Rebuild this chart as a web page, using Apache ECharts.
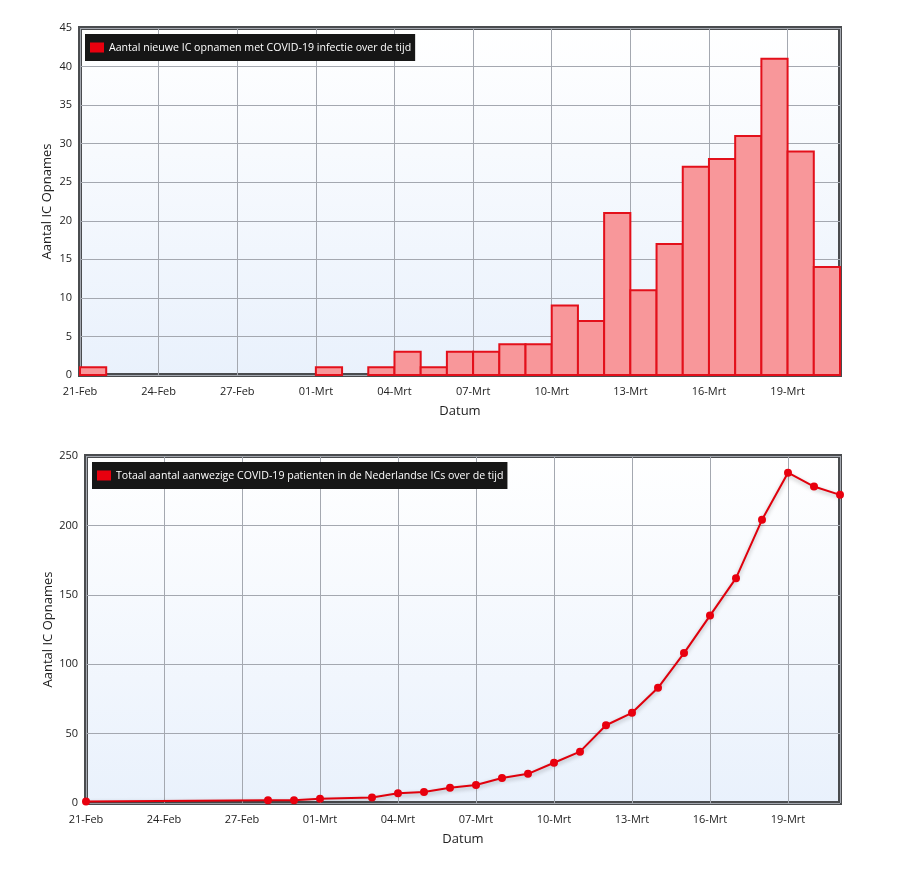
<!DOCTYPE html>
<html>
<head>
<meta charset="utf-8">
<script src="https://cdn.jsdelivr.net/npm/echarts@6/dist/echarts.min.js"></script>
<style>
  html, body { margin: 0; padding: 0; background: #fff; }
  #chart { width: 908px; height: 873px; }
</style>
</head>
<body>
<div id="chart"></div>
<script>
// dagelijkse nieuwe IC opnamen
const barDates = ['2020-02-21', '2020-03-01', '2020-03-03', '2020-03-04', '2020-03-05', '2020-03-06',
  '2020-03-07', '2020-03-08', '2020-03-09', '2020-03-10', '2020-03-11', '2020-03-12', '2020-03-13',
  '2020-03-14', '2020-03-15', '2020-03-16', '2020-03-17', '2020-03-18', '2020-03-19', '2020-03-20'];
const barValues = [1, 1, 1, 3, 1, 3, 3, 4, 4, 9, 7, 21, 11, 17, 27, 28, 31, 41, 29, 14];

// totaal aanwezig op de IC
const lineDates = ['2020-02-21', '2020-02-28', '2020-02-29', '2020-03-01', '2020-03-03', '2020-03-04',
  '2020-03-05', '2020-03-06', '2020-03-07', '2020-03-08', '2020-03-09', '2020-03-10', '2020-03-11',
  '2020-03-12', '2020-03-13', '2020-03-14', '2020-03-15', '2020-03-16', '2020-03-17', '2020-03-18',
  '2020-03-19', '2020-03-20', '2020-03-21'];
const lineValues = [1, 2, 2, 3, 4, 7, 8, 11, 13, 18, 21, 29, 37, 56, 65, 83, 108, 135, 162, 204, 238, 228, 222];

const tickLabels = ['21-Feb', '24-Feb', '27-Feb', '01-Mrt', '04-Mrt', '07-Mrt', '10-Mrt', '13-Mrt', '16-Mrt', '19-Mrt'];

const startDate = '2020-02-21';
const endDate = '2020-03-21';
const barName = 'Aantal nieuwe IC opnamen met COVID-19 infectie over de tijd';
const lineName = 'Totaal aantal aanwezige COVID-19 patienten in de Nederlandse ICs over de tijd';

const DAY = 86400000;
function dayIndex(d) {
  return Math.round((Date.parse(d) - Date.parse(startDate)) / DAY);
}
const lastDay = dayIndex(endDate);

const font = 'Open Sans';
const red = '#e8000e';

const plotBg = {
  type: 'linear', x: 0, y: 0, x2: 0, y2: 1,
  colorStops: [{ offset: 0, color: '#ffffff' }, { offset: 1, color: '#e9f1fc' }]
};

function makeGrid(left, top, bottom) {
  return {
    left: left, top: top, right: 68, bottom: bottom,
    show: true,
    backgroundColor: plotBg,
    borderColor: '#4a4c4f',
    borderWidth: 4
  };
}

function makeXAxis(gridIndex) {
  return {
    type: 'value',
    gridIndex: gridIndex,
    min: 0,
    max: lastDay,
    interval: 3,
    name: 'Datum',
    nameLocation: 'middle',
    nameGap: 30,
    nameTextStyle: { fontFamily: font, fontSize: 13, color: '#222' },
    axisLine: { show: false },
    axisTick: { show: false },
    axisLabel: {
      fontFamily: font, fontSize: 11, color: '#222', margin: 11,
      showMaxLabel: false,
      formatter: function (v) { return tickLabels[v / 3] || ''; }
    },
    splitLine: { show: true, lineStyle: { color: '#a4a8b0', width: 1 } }
  };
}

function makeYAxis(gridIndex, max, interval, gap) {
  return {
    type: 'value',
    gridIndex: gridIndex,
    min: 0,
    max: max,
    interval: interval,
    name: 'Aantal IC Opnames',
    nameLocation: 'middle',
    nameGap: gap,
    nameMoveOverlap: false,
    nameTextStyle: { fontFamily: font, fontSize: 13, color: '#222' },
    axisLine: { show: false },
    axisTick: { show: false },
    axisLabel: { fontFamily: font, fontSize: 11, color: '#222', margin: 8 },
    splitLine: { show: true, lineStyle: { color: '#a4a8b0', width: 1 } }
  };
}

function makeLegend(name, left, top) {
  return {
    data: [{ name: name, itemStyle: { color: red } }],
    left: left,
    top: top,
    icon: 'rect',
    itemWidth: 14,
    itemHeight: 10,
    itemGap: 6,
    backgroundColor: '#161616',
    borderRadius: 0,
    padding: [8, 4, 8, 5],
    textStyle: { color: '#fff', fontFamily: font, fontSize: 10.6 },
    selectedMode: false
  };
}

const barData = barDates.map((d, i) => [dayIndex(d), barValues[i]]);
const lineData = lineDates.map((d, i) => [dayIndex(d), lineValues[i]]);

const chart = echarts.init(document.getElementById('chart'), null, { renderer: 'canvas' });

const option = {
  animation: false,
  grid: [makeGrid(80, 28, 498), makeGrid(86, 456, 70)],
  xAxis: [makeXAxis(0), makeXAxis(1)],
  yAxis: [makeYAxis(0, 45, 5, 26), makeYAxis(1, 250, 50, 31)],
  legend: [makeLegend(barName, 85, 34), makeLegend(lineName, 92, 462)],
  series: [
    {
      name: barName,
      type: 'custom',
      xAxisIndex: 0,
      yAxisIndex: 0,
      encode: { x: 0, y: 1 },
      itemStyle: { color: red },
      data: barData,
      renderItem: function (params, api) {
        const x0 = api.value(0);
        const v = api.value(1);
        const p0 = api.coord([x0, 0]);
        const p1 = api.coord([x0 + 1, v]);
        return {
          type: 'rect',
          shape: { x: p0[0], y: p1[1], width: p1[0] - p0[0], height: p0[1] - p1[1] },
          style: { fill: '#f8979a', stroke: '#e3101b', lineWidth: 2 }
        };
      }
    },
    {
      name: lineName,
      type: 'line',
      xAxisIndex: 1,
      yAxisIndex: 1,
      data: lineData,
      symbol: 'circle',
      symbolSize: 8,
      itemStyle: { color: red },
      lineStyle: {
        color: '#e0000c', width: 2,
        shadowColor: 'rgba(0,0,0,0.3)', shadowBlur: 4, shadowOffsetY: 2
      }
    }
  ]
};

chart.setOption(option);
window.addEventListener('resize', chart.resize);
</script>
</body>
</html>
